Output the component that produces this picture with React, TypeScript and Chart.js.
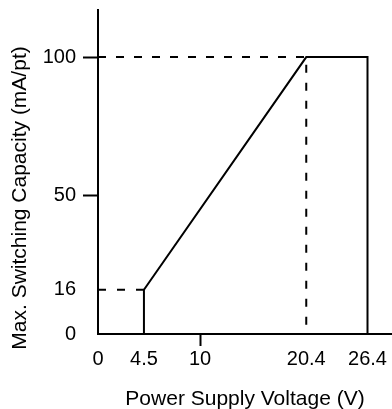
import React, { useEffect, useRef } from "react";
import { Chart, registerables } from "chart.js";

Chart.register(...registerables);

// ---- data ----
const xTickValues = [0, 4.5, 10, 20.4, 26.4];
const yTickValues = [0, 16, 50, 100];
const xTickMarks = [10];
const yTickMarks = [50, 100];
const xMin = 0;
const xMax = 28.8;
const yMin = 0;
const yMax = 117;

const curveX = [4.5, 4.5, 20.4, 26.4, 26.4];
const curveY = [0, 16, 100, 100, 0];

const guide16X = [0, 4.5];
const guide16Y = [16, 16];

const guide100X = [0, 20.4, 20.4];
const guide100Y = [100, 100, 0];

const xTitle = "Power Supply Voltage (V)";
const yTitle = "Max. Switching Capacity (mA/pt)";

const FONT = '"Liberation Sans", Arial, Helvetica, sans-serif';

const toPoints = (xs: number[], ys: number[]) => xs.map((x, i) => ({ x, y: ys[i] }));

const yTitlePlugin = {
  id: "yTitlePlugin",
  afterDraw(chart: any) {
    const ctx = chart.ctx;
    const area = chart.chartArea;
    ctx.save();
    ctx.font = `21px ${FONT}`;
    ctx.fillStyle = "#000";
    ctx.textAlign = "center";
    ctx.textBaseline = "middle";
    ctx.translate(20, area.bottom - 136);
    ctx.rotate(-Math.PI / 2);
    ctx.fillText(yTitle, 0, 0);
    ctx.restore();
  },
};

export default function App() {
  const ref = useRef<HTMLCanvasElement | null>(null);

  useEffect(() => {
    if (!ref.current) return;
    const chart = new Chart(ref.current, {
      type: "scatter",
      data: {
        datasets: [
          {
            data: toPoints(curveX, curveY),
            showLine: true,
            borderColor: "#000",
            borderWidth: 2,
            pointRadius: 0,
            tension: 0,
          },
          {
            data: toPoints(guide16X, guide16Y),
            showLine: true,
            borderColor: "#000",
            borderWidth: 2,
            borderDash: [8, 11],
            pointRadius: 0,
          },
          {
            data: toPoints(guide100X, guide100Y),
            showLine: true,
            borderColor: "#000",
            borderWidth: 2,
            borderDash: [8, 10],
            pointRadius: 0,
          },
        ],
      },
      options: {
        responsive: false,
        animation: false,
        events: [],
        layout: { padding: { top: 10, left: 0, right: 0, bottom: 0 } },
        plugins: { legend: { display: false }, tooltip: { enabled: false } },
        scales: {
          x: {
            type: "linear",
            min: xMin,
            max: xMax,
            afterBuildTicks: (s: any) => {
              s.ticks = xTickValues.map((v) => ({ value: v }));
            },
            afterFit: (s: any) => {
              s.height = 75;
              s.paddingLeft = 0;
              s.paddingRight = 0;
              s.paddingTop = 0;
              s.paddingBottom = 0;
            },
            border: { display: true, color: "#000", width: 2 },
            grid: {
              drawOnChartArea: false,
              drawTicks: true,
              tickLength: 12,
              tickWidth: 2,
              tickColor: (c: any) =>
                c.tick && xTickMarks.includes(c.tick.value) ? "#000" : "rgba(0,0,0,0)",
            },
            ticks: {
              color: "#000",
              font: { size: 20, family: FONT },
              padding: 1,
              maxRotation: 0,
              autoSkip: false,
              callback: (v: any) => String(v),
            },
            title: {
              display: true,
              text: xTitle,
              color: "#000",
              font: { size: 21, family: FONT, lineHeight: 0.95 },
              padding: 0,
            },
          },
          y: {
            type: "linear",
            min: yMin,
            max: yMax,
            afterBuildTicks: (s: any) => {
              s.ticks = yTickValues.map((v) => ({ value: v }));
            },
            afterFit: (s: any) => {
              s.width = 98;
              s.paddingLeft = 0;
              s.paddingRight = 0;
              s.paddingTop = 0;
              s.paddingBottom = 0;
            },
            border: { display: true, color: "#000", width: 2 },
            grid: {
              drawOnChartArea: false,
              drawTicks: true,
              tickLength: 15,
              tickWidth: 2,
              tickColor: (c: any) =>
                c.tick && yTickMarks.includes(c.tick.value) ? "#000" : "rgba(0,0,0,0)",
            },
            ticks: {
              color: "#000",
              font: { size: 20, family: FONT },
              padding: 7,
              autoSkip: false,
              callback: (v: any) => String(v),
            },
            title: { display: false },
          },
        },
      },
      plugins: [yTitlePlugin],
    } as any);
    return () => chart.destroy();
  }, []);

  return (
    <div style={{ position: "fixed", left: 0, top: 0, width: 392, height: 409, background: "#fff" }}>
      <canvas ref={ref} width={392} height={409} style={{ display: "block" }} />
    </div>
  );
}
